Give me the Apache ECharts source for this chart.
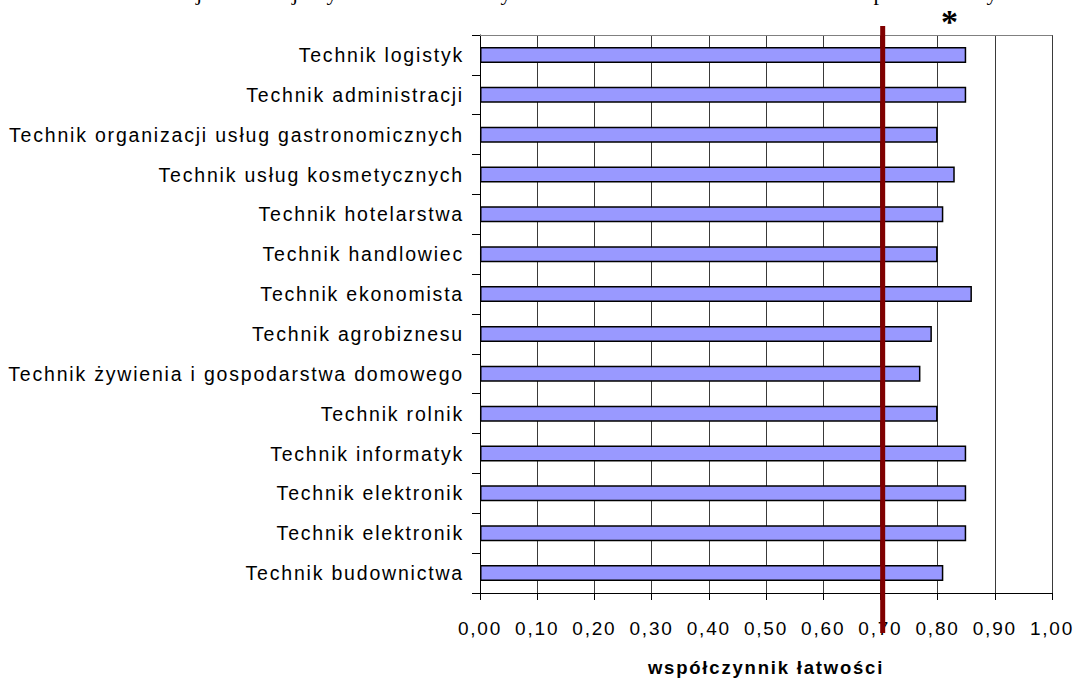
<!DOCTYPE html>
<html>
<head>
<meta charset="utf-8">
<script src="https://cdn.jsdelivr.net/npm/echarts@6/dist/echarts.min.js"></script>
<style>
html,body{margin:0;padding:0;background:#fff;}
#chart{width:1077px;height:682px;}
#chart svg text{letter-spacing:1.8px;}
</style>
</head>
<body>
<div id="chart"></div>
<script>
const categories = [
  'Technik logistyk',
  'Technik administracji',
  'Technik organizacji usług gastronomicznych',
  'Technik usług kosmetycznych',
  'Technik hotelarstwa',
  'Technik handlowiec',
  'Technik ekonomista',
  'Technik agrobiznesu',
  'Technik żywienia i gospodarstwa domowego',
  'Technik rolnik',
  'Technik informatyk',
  'Technik elektronik',
  'Technik elektronik',
  'Technik budownictwa'
];
const values = [0.85, 0.85, 0.80, 0.83, 0.81, 0.80, 0.86, 0.79, 0.77, 0.80, 0.85, 0.85, 0.85, 0.81];
const referenceValue = 0.704;
const xTicks = { min: 0, max: 1, interval: 0.1 };
const axisTitle = 'współczynnik łatwości';

const FONT = '"Liberation Sans", Arial, sans-serif';
const SERIF = '"Liberation Serif", "Times New Roman", serif';
const chart = echarts.init(document.getElementById('chart'), null, { renderer: 'svg' });

function descender(ch, x) {
  return { type: 'text', x: x, y: -8, style: { text: ch, fontFamily: SERIF, fontSize: 22, fill: '#000', align: 'center', verticalAlign: 'middle' } };
}

chart.setOption({
  animation: false,
  backgroundColor: '#fff',
  grid: [
    { left: 480, right: 25, top: 35, bottom: 87, containLabel: false },
    { left: 480, right: 25, top: 26, bottom: 49, containLabel: false }
  ],
  xAxis: [
    {
      gridIndex: 0, type: 'value', position: 'bottom',
      min: xTicks.min, max: xTicks.max, interval: xTicks.interval,
      axisLine: { show: true, lineStyle: { color: '#000', width: 1 } },
      axisTick: { show: true, inside: false, length: 7, lineStyle: { color: '#000' } },
      axisLabel: {
        show: true, margin: 26, color: '#000', fontFamily: FONT, fontSize: 19,
        formatter: v => v.toFixed(2).replace('.', ',')
      },
      splitLine: { show: true, lineStyle: { color: '#3a3a3a', width: 1 } },
      name: axisTitle, nameLocation: 'middle', nameGap: 65,
      nameTextStyle: { color: '#000', fontFamily: FONT, fontSize: 18.5, fontWeight: 'bold' }
    },
    {
      gridIndex: 0, type: 'value', position: 'top',
      min: xTicks.min, max: xTicks.max, interval: xTicks.interval,
      axisLine: { show: true, lineStyle: { color: '#808080', width: 1 } },
      axisTick: { show: false }, axisLabel: { show: false }, splitLine: { show: false }
    },
    {
      gridIndex: 1, type: 'value', show: false,
      min: xTicks.min, max: xTicks.max
    }
  ],
  yAxis: [
    {
      gridIndex: 0, type: 'category', data: categories.map((c, i) => String(i)),
      inverse: true,
      axisLine: { show: true, lineStyle: { color: '#000', width: 1 } },
      axisTick: { show: true, inside: false, length: 8, alignWithLabel: false, lineStyle: { color: '#000' } },
      axisLabel: {
        show: true, margin: 16, color: '#000', fontFamily: FONT, fontSize: 19.5,
        formatter: v => categories[+v]
      },
      splitLine: { show: false }
    },
    {
      gridIndex: 1, type: 'value', show: false, min: 0, max: 1
    }
  ],
  series: [
    {
      type: 'bar', xAxisIndex: 0, yAxisIndex: 0,
      data: values,
      barWidth: 16,
      itemStyle: { color: '#9999FF', borderColor: '#000', borderWidth: 1.5 },
      z: 3
    },
    {
      type: 'line', xAxisIndex: 2, yAxisIndex: 1,
      data: [[referenceValue, 0], [referenceValue, 1]],
      symbol: 'none',
      lineStyle: { color: '#800000', width: 5 },
      z: 20, zlevel: 1
    }
  ],
  graphic: [
    { type: 'text', left: 941, top: 4, style: { text: '*', fontFamily: SERIF, fontSize: 34, fontWeight: 'bold', fill: '#000' } },
    descender('j', 200),
    descender('j', 296),
    descender('y', 333),
    descender('y', 507),
    descender('p', 880),
    descender('y', 993)
  ]
});
</script>
</body>
</html>
